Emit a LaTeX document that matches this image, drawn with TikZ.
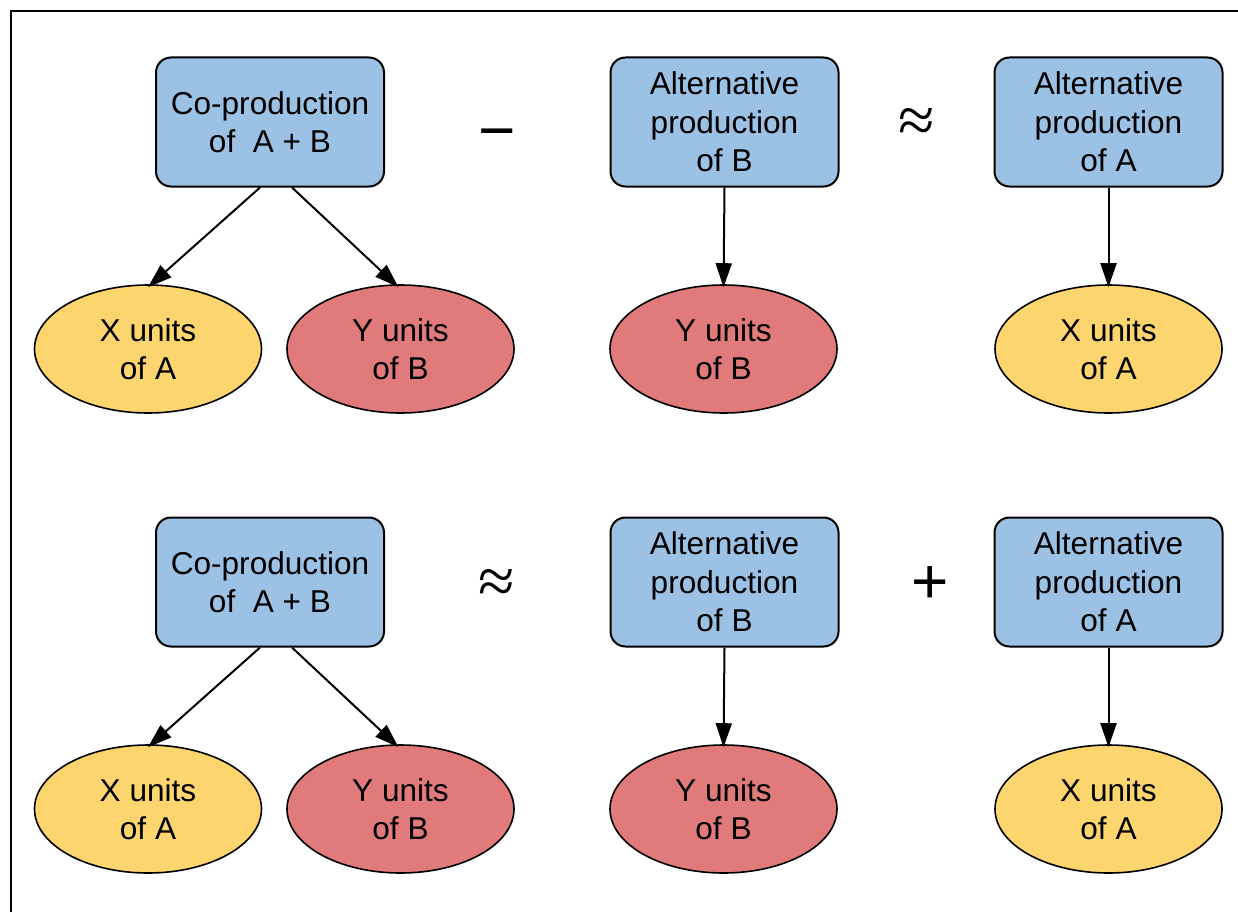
\documentclass[tikz,border=0pt]{standalone}
\usepackage{fontspec}
\setmainfont{Liberation Sans}
\newfontfamily\apxfont{Liberation Serif}
\usetikzlibrary{shapes.geometric,arrows.meta}
\definecolor{boxblue}{HTML}{9BC1E4}
\definecolor{unitA}{HTML}{FDD56E}
\definecolor{unitB}{HTML}{E17B7B}
\tikzset{
  prodbox/.style={draw=black, line width=2pt, fill=boxblue, rounded corners=15pt,
    minimum width=228pt, minimum height=129pt, inner sep=0pt, align=center,
    font=\fontsize{31.6}{38.5}\selectfont},
  unitell/.style={ellipse, draw=black, line width=1.6pt, minimum width=227pt,
    minimum height=128pt, inner sep=0pt, align=center,
    font=\fontsize{31.6}{38.5}\selectfont},
  flow/.style={line width=2pt, -{Triangle[length=24pt,width=16pt]}},
  opsym/.style={inner sep=0pt, font=\fontsize{64}{64}\selectfont},
  apx/.style={inner sep=0pt, font=\apxfont\fontsize{66}{66}\selectfont}
}
\begin{document}
\begin{tikzpicture}[x=1pt,y=-1pt]
\useasboundingbox (0,0) rectangle (1238,912);
\draw[line width=2.5pt] (11,912) -- (11,11) -- (1238,11);
% top row
\node[prodbox] (cp1) at (270,122) {Co-production\\of\ \ A + B};
\node[prodbox] (ab1) at (724.5,122) {Alternative\\production\\of B};
\node[prodbox] (aa1) at (1108.5,122) {Alternative\\production\\of A};
\node[unitell, fill=unitA] (xa1) at (148,349) {X units\\of A};
\node[unitell, fill=unitB] (yb1) at (400.5,349) {Y units\\of B};
\node[unitell, fill=unitB] (yb2) at (723.5,349) {Y units\\of B};
\node[unitell, fill=unitA] (xa2) at (1108.5,349) {X units\\of A};
\node[opsym] (minus1) at (497,141) {−};
\node[apx] (apx1) at (917,126) {≈};
\draw[flow] ([xshift=-10pt]cp1.south) -- ([yshift=-3pt]xa1.north);
\draw[flow] ([xshift=22pt]cp1.south) -- ([xshift=-2pt,yshift=-3pt]yb1.north);
\draw[flow] (ab1.south) -- ([yshift=-3pt]yb2.north);
\draw[flow] (aa1.south) -- ([yshift=-3pt]xa2.north);
% bottom row
\node[prodbox] (cp2) at (270,582) {Co-production\\of\ \ A + B};
\node[prodbox] (ab2) at (724.5,582) {Alternative\\production\\of B};
\node[prodbox] (aa2) at (1108.5,582) {Alternative\\production\\of A};
\node[unitell, fill=unitA] (xa3) at (148,809) {X units\\of A};
\node[unitell, fill=unitB] (yb3) at (400.5,809) {Y units\\of B};
\node[unitell, fill=unitB] (yb4) at (723.5,809) {Y units\\of B};
\node[unitell, fill=unitA] (xa4) at (1108.5,809) {X units\\of A};
\node[apx] (apx2) at (497,586) {≈};
\node[opsym] (plus1) at (930,585) {+};
\draw[flow] ([xshift=-10pt]cp2.south) -- ([yshift=-3pt]xa3.north);
\draw[flow] ([xshift=22pt]cp2.south) -- ([xshift=-2pt,yshift=-3pt]yb3.north);
\draw[flow] (ab2.south) -- ([yshift=-3pt]yb4.north);
\draw[flow] (aa2.south) -- ([yshift=-3pt]xa4.north);
\end{tikzpicture}
\end{document}
